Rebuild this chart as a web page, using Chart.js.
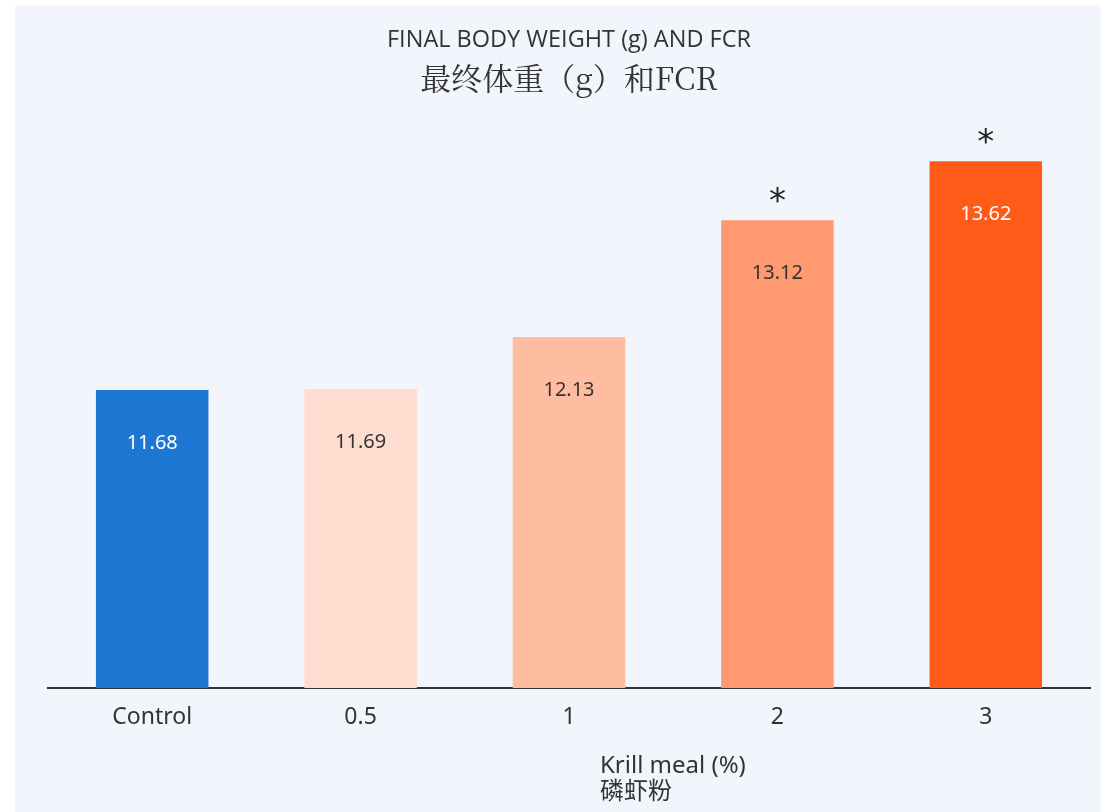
<!DOCTYPE html>
<html>
<head>
<meta charset="utf-8">
<script src="https://cdn.jsdelivr.net/npm/chart.js@4.4.1/dist/chart.umd.min.js"></script>
<style>
  html, body { margin: 0; padding: 0; background: #ffffff; }
  #wrap { position: absolute; left: 15px; top: 5px; width: 1086px; height: 807px; background: #f2f6fc; }
  canvas { display: block; }
</style>
</head>
<body>
<div id="wrap"><canvas id="fbw" width="1086" height="807"></canvas></div>
<script>
// krill meal inclusion levels and final body weight (g)
const categories = ['Control', '0.5', '1', '2', '3'];
const weights = [11.68, 11.69, 12.13, 13.12, 13.62];
const significant = [false, false, false, true, true];
const barColors = ['#1f77d4', '#fedcd0', '#febca1', '#fe9970', '#fe5a18'];
const labelColors = ['#ffffff', '#333333', '#333333', '#333333', '#ffffff'];
const titleLines = ['FINAL BODY WEIGHT (g) AND FCR', '最终体重（g）和FCR'];
const axisTitleLines = ['Krill meal (%)', '磷虾粉'];

const textPlugin = {
  id: 'texts',
  afterDatasetsDraw(chart){
    const ctx = chart.ctx;
    const area = chart.chartArea;
    const cx = (area.left + area.right) / 2;
    ctx.save();
    ctx.textAlign = 'center';
    ctx.textBaseline = 'middle';
    // titles
    ctx.fillStyle = '#333333';
    ctx.font = '400 23.5px "Open Sans", "Noto Sans", sans-serif';
    ctx.fillText(titleLines[0], cx, 35);
    ctx.font = '31px "Noto Serif CJK SC", "Noto Sans CJK SC", serif';
    ctx.fillText(titleLines[1], cx, 73);
    // value labels and significance marks
    const meta = chart.getDatasetMeta(0);
    meta.data.forEach((bar, i)=>{
      ctx.font = '20px "Noto Sans", sans-serif';
      ctx.fillStyle = labelColors[i];
      ctx.fillText(weights[i].toFixed(2), bar.x, bar.y + 53);
      if(significant[i]){
        ctx.fillStyle = '#222222';
        ctx.font = '34px "DejaVu Sans", sans-serif';
        ctx.fillText('*', bar.x, bar.y - 17);
      }
    });
    // axis title
    ctx.textAlign = 'left';
    ctx.fillStyle = '#333333';
    ctx.font = '24px "Noto Sans", sans-serif';
    ctx.fillText(axisTitleLines[0], 585, 761);
    ctx.font = '24px "Noto Sans CJK SC", sans-serif';
    ctx.fillText(axisTitleLines[1], 585, 785);
    ctx.restore();
  }
};

new Chart(document.getElementById('fbw'), {
  type: 'bar',
  data: {
    labels: categories,
    datasets: [{ data: weights, backgroundColor: barColors, borderWidth: 0, barPercentage: 0.54, categoryPercentage: 1 }]
  },
  options: {
    responsive: false,
    animation: false,
    layout: { padding: { left: 33, right: 11, top: 100, bottom: 0 } },
    plugins: { legend: { display: false }, tooltip: { enabled: false } },
    scales: {
      x: {
        grid: { display: false, drawTicks: false },
        border: { display: true, color: '#333333', width: 2 },
        ticks: { color: '#333333', padding: 16, font: { family: 'Noto Sans', size: 23 } },
        afterFit(scale){ scale.height = 124; }
      },
      y: { display: false, min: 9.155, max: 14.096 }
    }
  },
  plugins: [textPlugin]
});
</script>
</body>
</html>
